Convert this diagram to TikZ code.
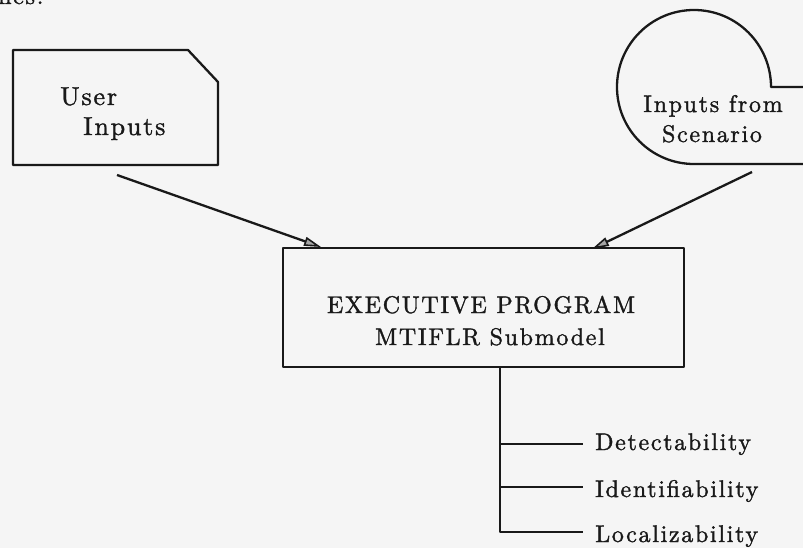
\documentclass[tikz,border=0pt]{standalone}
\usepackage{fontspec}
\usetikzlibrary{arrows.meta}
% wide, slightly heavy serif for all labels
\newfontfamily\scanfont{lmroman10-regular.otf}[LetterSpace=7, FakeBold=1.4]
\begin{document}
\begin{tikzpicture}[x=1pt,y=-1pt,
  ink/.style={line width=2.3pt, line join=round, black!90},
  lbl/.style={font=\scanfont\fontsize{24}{32}\selectfont, inner sep=0pt, black!90},
  flow/.style={ink, -{Triangle[length=17pt, width=9pt, line width=1.6pt, fill=black!35]}}]
\useasboundingbox (0,0) rectangle (803,548);
\fill[white!96!black] (0,0) rectangle (803,548);

% cut-off running text at the top edge
\begin{scope}
\clip (0,0) rectangle (803,548);
\node[lbl, anchor=base west] (runin) at (-2,4) {nes.};
\end{scope}

% user input card with clipped corner
\draw[ink] (13,50) -- (188,50) -- (218,82) -- (218,165) -- (13,165) -- cycle;
\node[lbl, anchor=base west, font=\scanfont\fontsize{26}{32}\selectfont] (user) at (60,105) {User};
\node[lbl, anchor=base west, font=\scanfont\fontsize{26}{32}\selectfont] (userin) at (83,135) {Inputs};

% scenario input: round storage symbol
\begin{scope}
\clip (0,0) rectangle (803,548);
\draw[ink] (812,164) -- (694,164) arc[start angle=270, end angle=0, radius=77pt] -- (812,87);
\end{scope}
\node[lbl, anchor=base] (scenA) at (713,112) {Inputs from};
\node[lbl, anchor=base] (scenB) at (712,142) {Scenario};

% executive program box
\node[ink, draw, minimum width=401pt, minimum height=119pt, inner sep=0pt] (exec) at (483.5,307.5) {};
\node[lbl, anchor=base] (execA) at (481,313) {EXECUTIVE PROGRAM};
\node[lbl, anchor=base] (execB) at (490,345) {MTIFLR Submodel};

% inputs flowing into the executive
\coordinate (utail) at (117,175);
\coordinate (uhead) at (321,247);
\coordinate (stail) at (752,172);
\coordinate (shead) at (592,249);
\draw[flow] (utail) -- (uhead);
\draw[flow] (stail) -- (shead);

% outputs
\node[lbl, anchor=base west] (det) at (595,450) {Detectability};
\node[lbl, anchor=base west] (idf) at (595,497) {Identifiability};
\node[lbl, anchor=base west] (loc) at (595,542) {Localizability};
\coordinate (trunk) at (500,367);
\coordinate (j1) at (500,444);
\coordinate (j2) at (500,487);
\coordinate (j3) at (500,532);
\draw[ink] (trunk) -- (j3) -- ([xshift=-12pt]loc.west |- j3);
\draw[ink] (j1) -- ([xshift=-12pt]det.west |- j1);
\draw[ink] (j2) -- ([xshift=-12pt]idf.west |- j2);
\end{tikzpicture}
\end{document}
